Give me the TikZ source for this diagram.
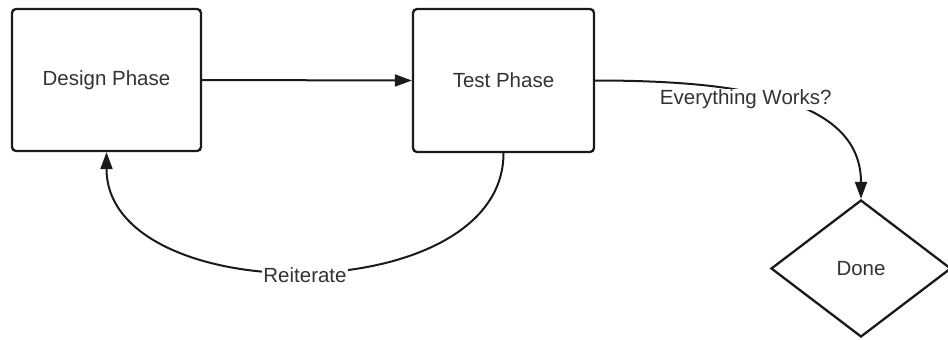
\documentclass[tikz,border=0pt]{standalone}
\usepackage{fontspec}
\setmainfont{Liberation Sans}
\usetikzlibrary{arrows.meta,shapes.geometric}
\definecolor{inkline}{HTML}{1A1A1A}
\definecolor{inktext}{HTML}{333333}
\begin{document}
\begin{tikzpicture}[x=1pt,y=-1pt,
  labelfont/.style={text=inktext, font=\fontsize{20.5}{24}\selectfont},
  phase/.style={labelfont, draw=inkline, line width=2.3pt, rounded corners=4pt,
    fill=white, inner sep=0pt},
  decision/.style={labelfont, diamond, draw=inkline, line width=2.3pt, fill=white,
    inner sep=0pt, minimum width=180pt, minimum height=137pt},
  conn/.style={draw=inkline, line width=2pt,
    -{Triangle[length=17pt,width=12pt]}},
  lbl/.style={labelfont, fill=white, inner sep=1pt}
]
\useasboundingbox (0,0) rectangle (948,340);

% process boxes
\node[phase, minimum width=189pt, minimum height=142pt] (design) at (106.5,80) {Design Phase};
\node[phase, minimum width=181pt, minimum height=143pt] (test) at (503.5,80.5) {Test Phase};

% final decision
\node[decision] (done) at (861,268.5) {Done};

% connectors
\draw[conn] (design.east) -- (test.west);
\draw[conn] (test.south) .. controls +(0,158) and +(0,158) .. (design.south)
  node[lbl, pos=0.5, yshift=-4pt] (reit) {Reiterate};
\draw[conn] (test.east) .. controls +(146,0) and +(0,-100) .. (done.north)
  node[lbl, pos=0.4, xshift=-6pt, yshift=-6pt] (works) {Everything Works?};
\end{tikzpicture}
\end{document}
